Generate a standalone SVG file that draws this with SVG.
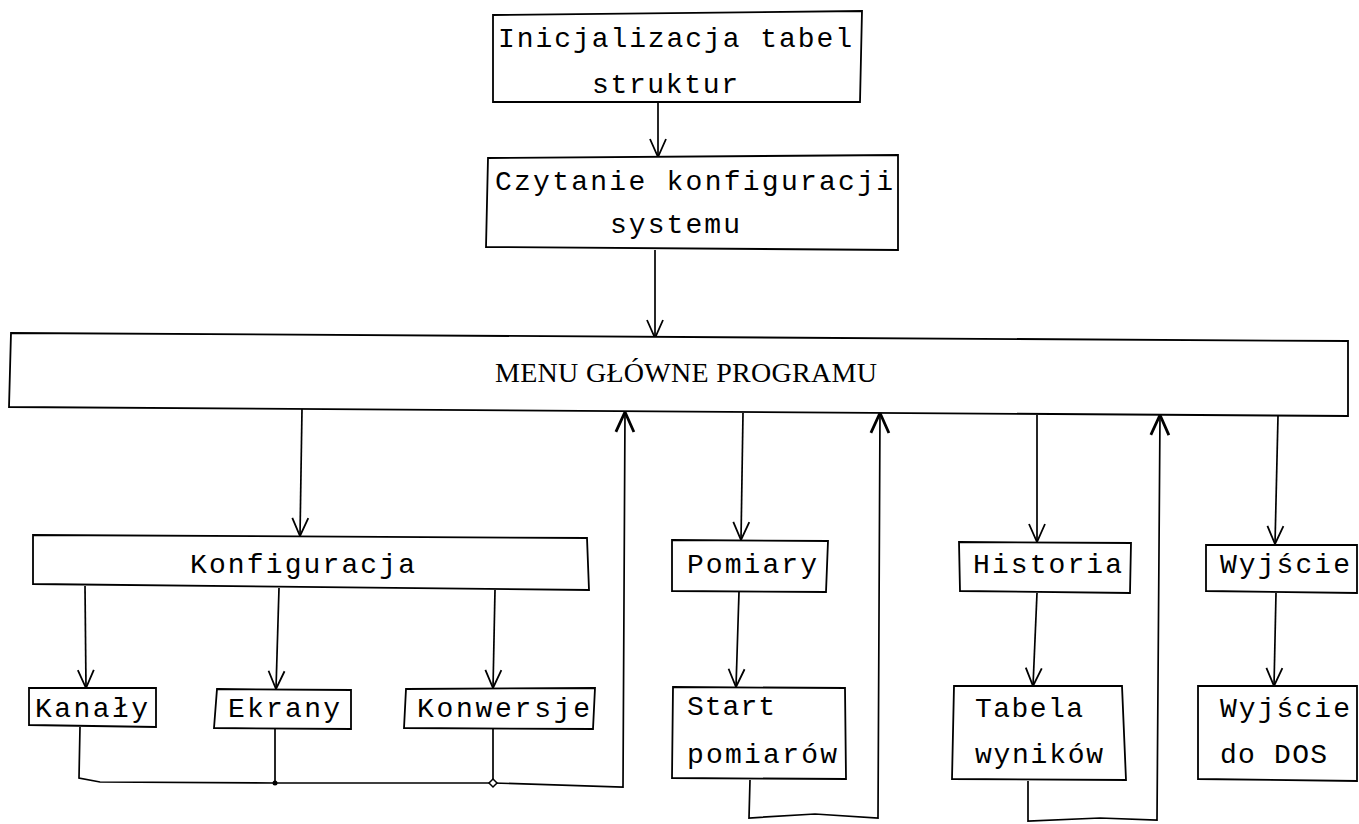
<svg xmlns="http://www.w3.org/2000/svg" width="1359" height="824" viewBox="0 0 1359 824">
<defs>
<style>
.box{fill:#fff;stroke:#000;stroke-width:1.8;stroke-linejoin:miter}
.lbl{font-family:"Liberation Mono","DejaVu Sans Mono",monospace;font-size:28px;fill:#000}
.menu{font-family:"Liberation Serif","DejaVu Serif",serif;font-size:28px;fill:#000}
.ln{fill:none;stroke:#000;stroke-width:1.7}
.ar{marker-end:url(#v)}
.up{marker-end:url(#vb)}
</style>
<marker id="v" viewBox="-20 -11 22 22" refX="0" refY="0" markerWidth="22" markerHeight="22" orient="auto" markerUnits="userSpaceOnUse">
<path d="M-18,-8 L0,0 L-18,8" fill="none" stroke="#000" stroke-width="1.8"/>
</marker>
<marker id="vb" viewBox="-22 -12 24 24" refX="0" refY="0" markerWidth="24" markerHeight="24" orient="auto" markerUnits="userSpaceOnUse">
<path d="M-20,-9 L0,0 L-20,9" fill="none" stroke="#000" stroke-width="2.8"/>
</marker>
</defs>
<rect width="1359" height="824" fill="#fff"/>

<g id="connectors">
<path class="ln ar" d="M658,102 L658,157"/>
<path class="ln ar" d="M655,250 L655,338"/>
<path class="ln ar" d="M302,409 L300,536"/>
<path class="ln ar" d="M743,413 L741,540"/>
<path class="ln ar" d="M1037,415 L1037,542"/>
<path class="ln ar" d="M1278,416 L1275,544"/>
<path class="ln ar" d="M85,586 L86,688"/>
<path class="ln ar" d="M279,588 L276,689"/>
<path class="ln ar" d="M495,590 L493,688"/>
<path class="ln ar" d="M739,592 L736,687"/>
<path class="ln ar" d="M1037,593 L1033,686"/>
<path class="ln ar" d="M1276,593 L1274,686"/>
<path class="ln" d="M275,729 L275,783"/>
<path class="ln" d="M493,729 L493,783"/>
<path class="ln up" d="M80,727 L79,778 L100,782 L275,783 L493,783 L623,787 L625,412"/>
<path class="ln up" d="M750,780 L749,818 L815,814 L878,818 L880,413"/>
<path class="ln up" d="M1028,781 L1028,821 L1100,818 L1157,820 L1160,415"/>
<circle cx="275" cy="783" r="2.5" fill="#000"/>
<path d="M493,779 L497,783 L493,787 L489,783 Z" fill="#fff" stroke="#000" stroke-width="1.5"/>
</g>

<g id="n-init">
<polygon class="box" points="493,15 862,11 860,102 493,102"/>
<text class="lbl"><tspan x="498" y="47" textLength="354" lengthAdjust="spacing">Inicjalizacja tabel</tspan><tspan x="592" y="93" textLength="146" lengthAdjust="spacing">struktur</tspan></text>
</g>
<g id="n-czyt">
<polygon class="box" points="488,158 898,155 898,250 486,247"/>
<text class="lbl"><tspan x="495" y="190" textLength="398" lengthAdjust="spacing">Czytanie konfiguracji</tspan><tspan x="610" y="233" textLength="130" lengthAdjust="spacing">systemu</tspan></text>
</g>
<g id="n-menu">
<polygon class="box" points="11,333 1348,341 1348,416 9,407"/>
<text class="menu" x="495" y="382" textLength="382" lengthAdjust="spacing">MENU GŁÓWNE PROGRAMU</text>
</g>
<g id="n-konf">
<polygon class="box" points="33,535 587,538 589,590 33,584"/>
<text class="lbl" x="190" y="573" textLength="225" lengthAdjust="spacing">Konfiguracja</text>
</g>
<g id="n-pom">
<polygon class="box" points="672,540 828,541 826,592 672,591"/>
<text class="lbl" x="687" y="573" textLength="130" lengthAdjust="spacing">Pomiary</text>
</g>
<g id="n-hist">
<polygon class="box" points="959,542 1131,543 1130,593 960,591"/>
<text class="lbl" x="973" y="573" textLength="149" lengthAdjust="spacing">Historia</text>
</g>
<g id="n-wyj">
<polygon class="box" points="1206,545 1357,545 1357,593 1206,591"/>
<text class="lbl" x="1220" y="573" textLength="130" lengthAdjust="spacing">Wyjście</text>
</g>
<g id="n-kan">
<polygon class="box" points="29,688 156,688 156,727 29,725"/>
<text class="lbl" x="35" y="717" textLength="113" lengthAdjust="spacing">Kanały</text>
</g>
<g id="n-ekr">
<polygon class="box" points="217,689 351,690 351,729 214,728"/>
<text class="lbl" x="228" y="717" textLength="112" lengthAdjust="spacing">Ekrany</text>
</g>
<g id="n-konw">
<polygon class="box" points="406,689 595,688 593,729 404,728"/>
<text class="lbl" x="417" y="717" textLength="173" lengthAdjust="spacing">Konwersje</text>
</g>
<g id="n-start">
<polygon class="box" points="673,687 845,688 846,779 672,778"/>
<text class="lbl"><tspan x="687" y="715" textLength="88" lengthAdjust="spacing">Start</tspan><tspan x="687" y="763" textLength="150" lengthAdjust="spacing">pomiarów</tspan></text>
</g>
<g id="n-tab">
<polygon class="box" points="954,686 1122,686 1126,780 952,779"/>
<text class="lbl"><tspan x="975" y="717" textLength="108" lengthAdjust="spacing">Tabela</tspan><tspan x="975" y="763" textLength="128" lengthAdjust="spacing">wyników</tspan></text>
</g>
<g id="n-dos">
<polygon class="box" points="1198,686 1357,686 1357,781 1198,779"/>
<text class="lbl"><tspan x="1220" y="717" textLength="130" lengthAdjust="spacing">Wyjście</tspan><tspan x="1220" y="763" textLength="107" lengthAdjust="spacing">do DOS</tspan></text>
</g>
</svg>
